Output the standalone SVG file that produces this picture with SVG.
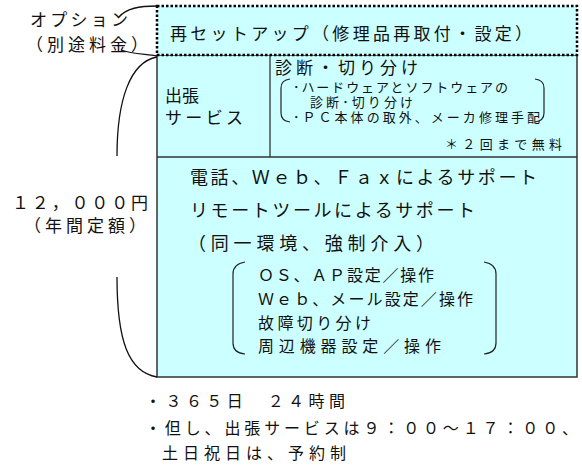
<svg xmlns="http://www.w3.org/2000/svg" width="582" height="466" viewBox="0 0 582 466">
<style>
text{font-family:"Noto Sans CJK JP","Noto Sans CJK SC",sans-serif;fill:#111}
.l{font-size:17px}
.x{font-size:18px}
.m{font-size:16px}
.s{font-size:13px}
.box{fill:#ccffff;stroke:#333;stroke-width:1.5}
.dot{fill:#ccffff;stroke:#000;stroke-width:2.5;stroke-dasharray:2.5 2}
.c{fill:none;stroke:#111;stroke-width:1.3}
.br{fill:none;stroke:#222;stroke-width:1.2}
</style>
<rect width="582" height="466" fill="#fff"/>
<g id="main-box">
<rect class="box" x="157" y="55" width="420" height="322"/>
<line x1="270" y1="55" x2="270" y2="157" stroke="#333" stroke-width="1.3"/>
<line x1="157" y1="157" x2="577" y2="157" stroke="#333" stroke-width="1.5"/>
</g>
<g id="option-setup">
<rect class="dot" x="157" y="6" width="420" height="49"/>
<text class="l" x="170" y="40" textLength="362" lengthAdjust="spacing">再セットアップ（修理品再取付・設定）</text>
</g>
<g id="onsite-service">
<text class="l" x="165" y="102">出張</text>
<text class="l" x="165" y="124" textLength="78" lengthAdjust="spacing">サービス</text>
</g>
<g id="diagnosis">
<text class="l" x="275" y="74" textLength="143" lengthAdjust="spacing">診断・切り分け</text>
<path class="br" d="M290,79 Q281,80 281,88 L281,113 Q281,121 290,122"/>
<path class="br" d="M535,79 Q544,80 544,88 L544,113 Q544,121 535,122"/>
<text class="s" x="293" y="92" textLength="215" lengthAdjust="spacing">･ハードウェアとソフトウェアの</text>
<text class="s" x="310" y="107" textLength="103" lengthAdjust="spacing">診断･切り分け</text>
<text class="s" x="293" y="122" textLength="247" lengthAdjust="spacing">･ＰＣ本体の取外、メーカ修理手配</text>
<text class="s" x="445" y="149" textLength="117" lengthAdjust="spacing">＊２回まで無料</text>
</g>
<g id="remote-support">
<text class="x" x="190" y="184" textLength="347" lengthAdjust="spacing">電話、Ｗｅｂ、Ｆａｘによるサポート</text>
<text class="x" x="190" y="217" textLength="285" lengthAdjust="spacing">リモートツールによるサポート</text>
<text class="x" x="188" y="250" textLength="246" lengthAdjust="spacing">（同一環境、強制介入）</text>
<path class="br" d="M245,262 Q233,264 233,274 L233,343 Q233,353 245,354"/>
<path class="br" d="M484,262 Q496,264 496,274 L496,343 Q496,353 484,354"/>
<text class="m" x="258" y="281" textLength="176" lengthAdjust="spacing">ＯＳ、ＡＰ設定／操作</text>
<text class="m" x="258" y="305" textLength="215" lengthAdjust="spacing">Ｗｅｂ、メール設定／操作</text>
<text class="m" x="258" y="329" textLength="113" lengthAdjust="spacing">故障切り分け</text>
<text class="m" x="258" y="352" textLength="183" lengthAdjust="spacing">周辺機器設定／操作</text>
</g>
<g id="option-label">
<text class="l" x="30" y="26" textLength="98" lengthAdjust="spacing">オプション</text>
<text class="l" x="26" y="51" textLength="122" lengthAdjust="spacing">（別途料金）</text>
</g>
<g id="price-label">
<text class="l" x="12" y="209" textLength="136" lengthAdjust="spacing">１２，０００円</text>
<text class="l" x="24" y="232" textLength="122" lengthAdjust="spacing">（年間定額）</text>
</g>
<g id="notes">
<text class="m" x="145" y="407" textLength="200" lengthAdjust="spacing">・３６５日　２４時間</text>
<text class="m" x="145" y="434" textLength="433" lengthAdjust="spacing">・但し、出張サービスは９：００～１７：００、</text>
<text class="m" x="162" y="459" textLength="184" lengthAdjust="spacing">土日祝日は、予約制</text>
</g>
<g id="connectors">
<path class="c" d="M118,18 C126,8 140,6 157,6"/>
<path class="c" d="M121,50 C132,54 145,54 157,56"/>
<path class="c" d="M157,57 C130,62 117,100 117,156"/>
<path class="c" d="M117,277 C117,340 128,372 157,377"/>
</g>
</svg>
